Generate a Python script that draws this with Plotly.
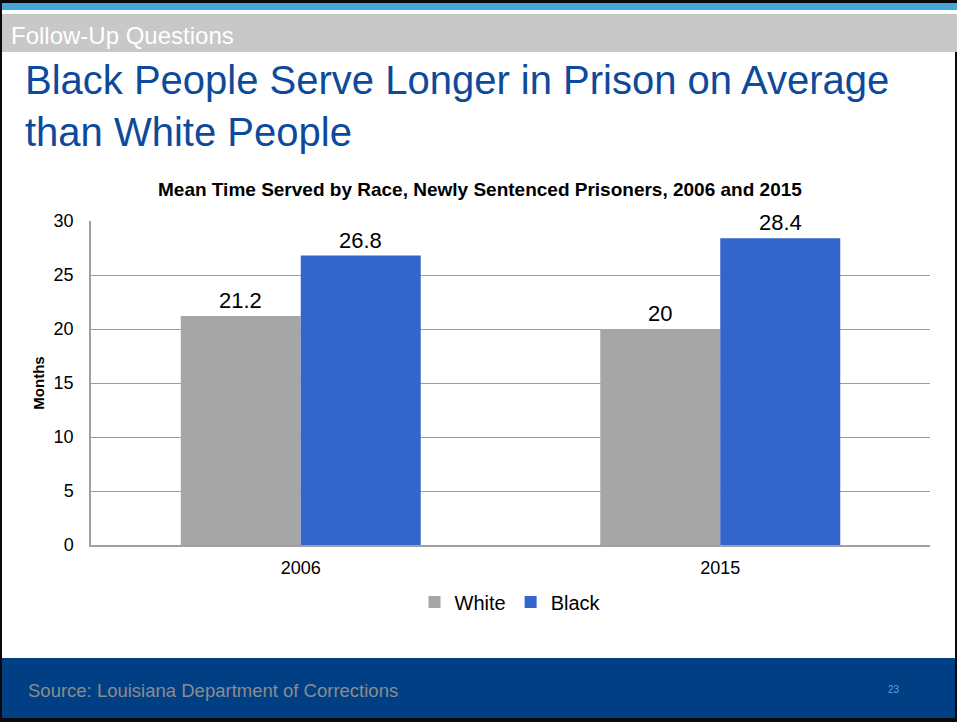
import plotly.graph_objects as go

# Mean time served (months) by race, newly sentenced prisoners
years = ["2006", "2015"]
white_months = [21.2, 20.0]
black_months = [26.8, 28.4]
white_labels = ["21.2", "20"]
black_labels = ["26.8", "28.4"]
y_ticks = [0, 5, 10, 15, 20, 25, 30]

W, H = 957, 722
L, R, T, B = 91, 930, 221, 545  # plot area in pixels

FONT = "Liberation Sans, Arial, sans-serif"


def px(xpix):
    return (xpix - L) / (R - L)


def py(ypix):
    return (B - ypix) / (B - T)


fig = go.Figure()
fig.add_trace(go.Bar(name="White", x=years, y=white_months, marker_color="#a6a6a6",
                     marker_line_width=0))
fig.add_trace(go.Bar(name="Black", x=years, y=black_months, marker_color="#3366cc",
                     marker_line_width=0))

shapes = []


def rect(x0, y0, x1, y1, color):
    shapes.append(dict(type="rect", xref="paper", yref="paper", layer="below",
                       x0=px(x0), x1=px(x1), y0=py(y1), y1=py(y0),
                       fillcolor=color, line_width=0))


# slide frame and header / footer bands
rect(0, 0, W, 3, "#0a0a0a")
rect(0, 3, W, 10, "#45a6df")
rect(0, 14, W, 52, "#c8c8c8")
rect(0, 658, W, 718, "#003f84")
rect(0, 718, W, H, "#0a0a0a")
rect(0, 0, 2, H, "#0a0a0a")
rect(955, 52, W, H, "#0a0a0a")

annotations = [
    dict(text="Follow-Up Questions", x=px(9), y=py(36), xref="paper", yref="paper",
         xanchor="left", yanchor="middle", showarrow=False,
         font=dict(family=FONT, size=24, color="#ffffff")),
    dict(text="Black People Serve Longer in Prison on Average<br>than White People",
         x=px(23), y=py(106), xref="paper", yref="paper", xanchor="left", yanchor="middle",
         align="left", showarrow=False,
         font=dict(family=FONT, size=40, color="#0e4a9b")),
    dict(text="<b>Mean Time Served by Race, Newly Sentenced Prisoners, 2006 and 2015</b>",
         x=px(480), y=py(189), xref="paper", yref="paper", xanchor="center", yanchor="middle",
         showarrow=False, font=dict(family=FONT, size=19, color="#000000")),
    dict(text="Source: Louisiana Department of Corrections", x=px(26), y=py(690),
         xref="paper", yref="paper", xanchor="left", yanchor="middle", showarrow=False,
         font=dict(family=FONT, size=18.5, color="#8c8c8c")),
    dict(text="23", x=px(894), y=py(689), xref="paper", yref="paper", xanchor="center",
         yanchor="middle", showarrow=False,
         font=dict(family=FONT, size=10, color="#4aa8e0")),
]

# value labels above each bar (x given as the category index)
for i, (v, lab) in enumerate(zip(white_months, white_labels)):
    annotations.append(dict(x=i, y=v, xref="x", yref="y", text=lab, showarrow=False,
                            xshift=-60, yshift=1, yanchor="bottom", bgcolor="#ffffff",
                            font=dict(family=FONT, size=22, color="#000000")))
for i, (v, lab) in enumerate(zip(black_months, black_labels)):
    annotations.append(dict(x=i, y=v, xref="x", yref="y", text=lab, showarrow=False,
                            xshift=60, yshift=1, yanchor="bottom", bgcolor="#ffffff",
                            font=dict(family=FONT, size=22, color="#000000")))

fig.update_layout(
    width=W, height=H,
    margin=dict(l=L, r=W - R, t=T, b=H - B, pad=0),
    paper_bgcolor="#ffffff", plot_bgcolor="#ffffff",
    barmode="group", bargap=0.428, bargroupgap=0,
    font=dict(family=FONT, color="#000000"),
    shapes=shapes, annotations=annotations,
    showlegend=True,
    legend=dict(orientation="h", x=0.5, xanchor="center", y=py(602), yanchor="middle",
                font=dict(family=FONT, size=20, color="#000000"),
                itemwidth=30, tracegroupgap=0, bgcolor="rgba(0,0,0,0)"),
)
fig.update_xaxes(type="category", range=[-0.5, len(years) - 0.5], showgrid=False,
                 showline=True, linecolor="#a0a0a0", linewidth=1.5, ticks="",
                 ticklabelstandoff=6,
                 tickfont=dict(family=FONT, size=18, color="#000000"))
fig.update_yaxes(range=[0, 30], tickvals=y_ticks, showgrid=True, gridcolor="#9c9c9c",
                 gridwidth=1, showline=True, linecolor="#a0a0a0", linewidth=1.5,
                 zeroline=False, ticks="", ticklabelstandoff=12,
                 tickfont=dict(family=FONT, size=18, color="#000000"),
                 title=dict(text="<b>Months</b>", font=dict(family=FONT, size=15),
                            standoff=5))

fig.write_html("out.html")
